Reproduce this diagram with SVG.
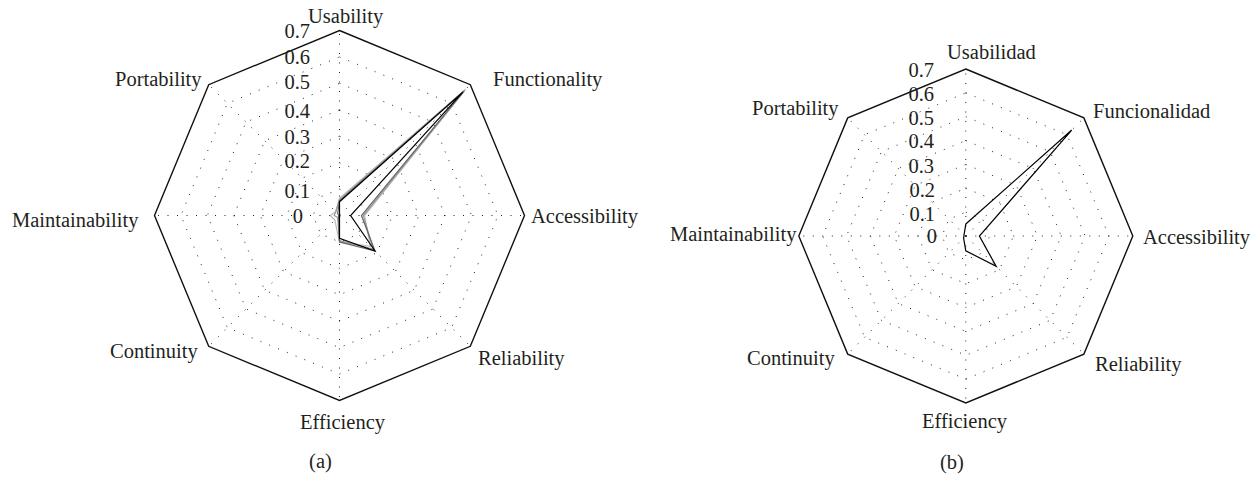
<svg xmlns="http://www.w3.org/2000/svg" width="1260" height="477" viewBox="0 0 1260 477">
<style>
.grid{fill:none;stroke:#222;stroke-width:1;stroke-dasharray:1 8.5}
.outer{fill:none;stroke:#111;stroke-width:1.4;stroke-linejoin:miter}
.s{fill:none;stroke-width:1.2;stroke-linejoin:miter}
.lbl{font-family:"Liberation Serif","Times New Roman",serif;font-size:20.5px;fill:#231f20}
.end{text-anchor:end}
.mid{text-anchor:middle}
</style>
<rect width="1260" height="477" fill="#fff"/>

<g id="chart-a">
  <g id="grid-a" class="grid">
    <polygon points="339.5,189.07 358.19,196.81 365.93,215.5 358.19,234.19 339.5,241.93 320.81,234.19 313.07,215.5 320.81,196.81"/>
    <polygon points="339.5,162.64 376.88,178.12 392.36,215.5 376.88,252.88 339.5,268.36 302.12,252.88 286.64,215.5 302.12,178.12"/>
    <polygon points="339.5,136.21 395.57,159.43 418.79,215.5 395.57,271.57 339.5,294.79 283.43,271.57 260.21,215.5 283.43,159.43"/>
    <polygon points="339.5,109.79 414.25,140.75 445.21,215.5 414.25,290.25 339.5,321.21 264.75,290.25 233.79,215.5 264.75,140.75"/>
    <polygon points="339.5,83.36 432.94,122.06 471.64,215.5 432.94,308.94 339.5,347.64 246.06,308.94 207.36,215.5 246.06,122.06"/>
    <polygon points="339.5,56.93 451.63,103.37 498.07,215.5 451.63,327.63 339.5,374.07 227.37,327.63 180.93,215.5 227.37,103.37"/>
    <path d="M339.5,215.5 L339.5,30.5 M339.5,215.5 L470.31,84.69 M339.5,215.5 L524.5,215.5 M339.5,215.5 L470.31,346.31 M339.5,215.5 L339.5,400.5 M339.5,215.5 L208.69,346.31 M339.5,215.5 L154.5,215.5 M339.5,215.5 L208.69,84.69"/>
  </g>
  <polygon id="outline-a" class="outer" points="339.5,30.5 470.31,84.69 524.5,215.5 470.31,346.31 339.5,400.5 208.69,346.31 154.5,215.5 208.69,84.69"/>
  <g id="series-a">
    <polygon class="s" stroke="#bbb" points="339.5,198.32 465.65,89.35 364.6,215.5 370.33,246.33 339.5,241.93 334.83,220.17 330.25,215.5 335.76,211.76"/>
    <polygon class="s" stroke="#999" points="339.5,199.64 464.7,90.3 363.29,215.5 373.14,249.14 339.5,240.6 337.63,217.37 334.21,215.5 335.76,211.76"/>
    <polygon class="s" stroke="#666" points="339.5,201 463.78,91.22 361.44,215.5 375,251 339.5,241.93 338.57,216.43 339.5,215.5 337.63,213.63"/>
    <polygon class="s" stroke="#000" points="339.5,201.76 462.84,92.16 350.6,215.5 375,251 339.5,238.23 339.5,215.5 339.5,215.5 339.5,215.5"/>
  </g>
  <g id="scale-a" class="lbl end">
    <text x="310" y="38">0.7</text>
    <text x="310" y="64">0.6</text>
    <text x="310" y="89">0.5</text>
    <text x="310" y="118">0.4</text>
    <text x="310" y="144">0.3</text>
    <text x="310" y="168">0.2</text>
    <text x="310" y="198">0.1</text>
    <text x="303" y="223">0</text>
  </g>
  <g id="axis-labels-a" class="lbl">
    <text id="a-usability" x="308" y="23">Usability</text>
    <text id="a-functionality" x="493" y="86">Functionality</text>
    <text id="a-accessibility" x="531" y="223">Accessibility</text>
    <text id="a-reliability" x="478" y="365">Reliability</text>
    <text id="a-efficiency" x="300" y="429">Efficiency</text>
    <text id="a-continuity" x="110" y="358">Continuity</text>
    <text id="a-maintainability" x="12" y="227">Maintainability</text>
    <text id="a-portability" x="115" y="86">Portability</text>
  </g>
  <text id="caption-a" class="lbl mid" x="320.5" y="468">(a)</text>
</g>

<g id="chart-b">
  <g id="grid-b" class="grid">
    <polygon points="965.8,212.14 982.67,219.13 989.66,236 982.67,252.87 965.8,259.86 948.93,252.87 941.94,236 948.93,219.13"/>
    <polygon points="965.8,188.29 999.54,202.26 1013.51,236 999.54,269.74 965.8,283.71 932.06,269.74 918.09,236 932.06,202.26"/>
    <polygon points="965.8,164.43 1016.41,185.39 1037.37,236 1016.41,286.61 965.8,307.57 915.19,286.61 894.23,236 915.19,185.39"/>
    <polygon points="965.8,140.57 1033.28,168.52 1061.23,236 1033.28,303.48 965.8,331.43 898.32,303.48 870.37,236 898.32,168.52"/>
    <polygon points="965.8,116.71 1050.15,151.65 1085.09,236 1050.15,320.35 965.8,355.29 881.45,320.35 846.51,236 881.45,151.65"/>
    <polygon points="965.8,92.86 1067.02,134.78 1108.94,236 1067.02,337.22 965.8,379.14 864.58,337.22 822.66,236 864.58,134.78"/>
    <path d="M965.8,236 L965.8,69 M965.8,236 L1083.89,117.91 M965.8,236 L1132.8,236 M965.8,236 L1083.89,354.09 M965.8,236 L965.8,403 M965.8,236 L847.71,354.09 M965.8,236 L798.8,236 M965.8,236 L847.71,117.91"/>
  </g>
  <polygon id="outline-b" class="outer" points="965.8,69 1083.89,117.91 1132.8,236 1083.89,354.09 965.8,403 847.71,354.09 798.8,236 847.71,117.91"/>
  <g id="series-b">
    <polygon class="s" stroke="#000" points="965.8,224.07 1071.73,130.07 979.4,236 996.17,266.37 965.8,250.79 963.61,238.19 963.9,236 964.11,234.31"/>
  </g>
  <g id="scale-b" class="lbl end">
    <text x="934" y="77">0.7</text>
    <text x="934" y="101">0.6</text>
    <text x="934" y="125">0.5</text>
    <text x="934" y="148">0.4</text>
    <text x="934" y="173">0.3</text>
    <text x="935" y="197">0.2</text>
    <text x="935" y="221">0.1</text>
    <text x="937" y="243">0</text>
  </g>
  <g id="axis-labels-b" class="lbl">
    <text id="b-usabilidad" x="947" y="59">Usabilidad</text>
    <text id="b-funcionalidad" x="1093" y="118">Funcionalidad</text>
    <text id="b-accessibility" x="1143" y="244">Accessibility</text>
    <text id="b-reliability" x="1095" y="371">Reliability</text>
    <text id="b-efficiency" x="922" y="428">Efficiency</text>
    <text id="b-continuity" x="747" y="365">Continuity</text>
    <text id="b-maintainability" x="670" y="241">Maintainability</text>
    <text id="b-portability" x="752" y="115">Portability</text>
  </g>
  <text id="caption-b" class="lbl mid" x="952" y="469">(b)</text>
</g>
</svg>
